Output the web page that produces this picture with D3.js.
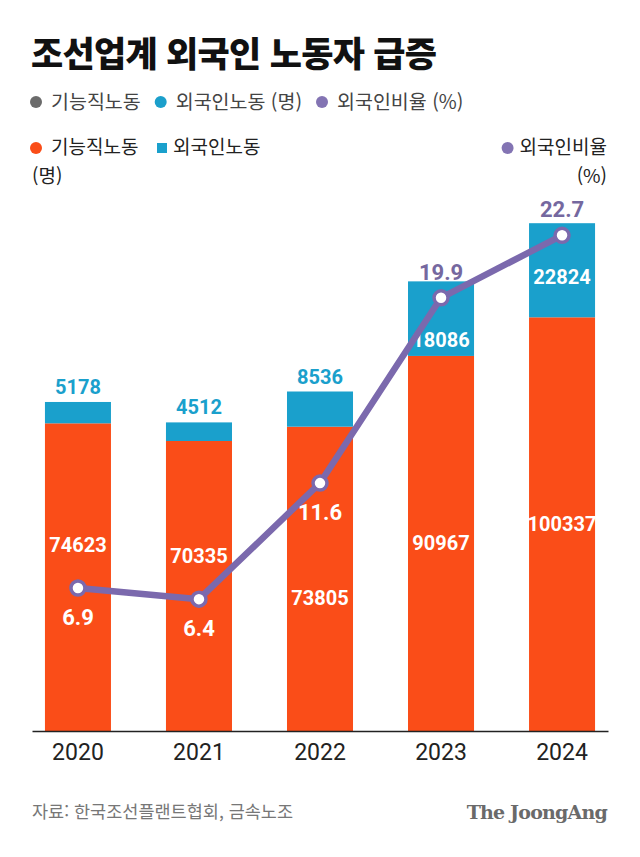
<!DOCTYPE html>
<html lang="ko">
<head>
<meta charset="utf-8">
<script src="https://cdn.jsdelivr.net/npm/d3@7"></script>
<style>
  html, body { margin: 0; padding: 0; background: #fff; }
  svg { display: block; font-family: "Noto Sans CJK KR", "Noto Sans", sans-serif; }
  .num { font-family: Roboto, "Noto Sans", sans-serif; font-weight: 700; }
</style>
</head>
<body>
<svg id="chart" width="640" height="857"></svg>
<script>
// data
const years = ['2020', '2021', '2022', '2023', '2024'];
const skilled = [74623, 70335, 73805, 90967, 100337];   // 기능직노동 (명)
const foreign = [5178, 4512, 8536, 18086, 22824];       // 외국인노동 (명)
const ratio = [6.9, 6.4, 11.6, 19.9, 22.7];             // 외국인비율 (%)

const legendTop = ['기능직노동', '외국인노동 (명)', '외국인비율 (%)'];
const legendTopColors = ['#6b6b6b', '#1b9fcb', '#8374b3'];

const ORANGE = '#fa4d18';
const BLUE = '#1aa0cc';
const PURPLE = '#7b69ad';
const PURPLE_TEXT = '#75689f';

const svg = d3.select('#chart');

// title
svg.append('text')
  .attr('x', 31).attr('y', 67)
  .attr('font-size', 35).attr('font-weight', 900)
  .attr('letter-spacing', -0.7)
  .attr('fill', '#111')
  .text('조선업계 외국인 노동자 급증');

// first legend row (grey style)
let lx = 36;
legendTop.forEach(function(t, i) {
  svg.append('circle').attr('cx', lx).attr('cy', 102).attr('r', 6).attr('fill', legendTopColors[i]);
  let tx = svg.append('text').attr('x', lx + 15).attr('y', 109)
    .attr('font-size', 19.5).attr('fill', '#444').text(t);
  lx = lx + 15 + tx.node().getComputedTextLength() + 20;
});

// second legend row
svg.append('circle').attr('cx', 36).attr('cy', 148).attr('r', 6).attr('fill', ORANGE);
svg.append('text').attr('x', 51).attr('y', 154).attr('font-size', 19).attr('fill', '#222').text('기능직노동');
svg.append('rect').attr('x', 157).attr('y', 143).attr('width', 10).attr('height', 10).attr('fill', BLUE);
svg.append('text').attr('x', 173).attr('y', 154).attr('font-size', 19).attr('fill', '#222').text('외국인노동');
svg.append('text').attr('x', 32).attr('y', 183).attr('font-size', 19).attr('fill', '#222').text('(명)');

let rt = svg.append('text').attr('x', 607).attr('y', 154).attr('text-anchor', 'end')
  .attr('font-size', 19).attr('fill', '#222').text('외국인비율');
svg.append('circle').attr('cx', 607 - rt.node().getComputedTextLength() - 12).attr('cy', 148).attr('r', 6).attr('fill', '#8374b3');
svg.append('text').attr('x', 607).attr('y', 183).attr('text-anchor', 'end')
  .attr('font-size', 19).attr('fill', '#222').text('(%)');

// scales
const x = d3.scaleBand().domain(years).range([32, 608]).paddingInner(0.4545).paddingOuter(0.107);
const y = d3.scaleLinear().domain([0, 130000]).range([731, 195]);
const yp = d3.scaleLinear().domain([0, 25]).range([742, 184]);

const rows = years.map(function(yr, i) {
  return {year: yr, skilled: skilled[i], foreign: foreign[i], ratio: ratio[i]};
});
const series = d3.stack().keys(['skilled', 'foreign'])(rows);
const colors = {skilled: ORANGE, foreign: BLUE};

svg.append('g').selectAll('g').data(series).enter().append('g')
  .attr('fill', function(s) { return colors[s.key]; })
  .selectAll('rect').data(function(s) { return s; }).enter().append('rect')
  .attr('x', function(d) { return x(d.data.year); })
  .attr('width', x.bandwidth())
  .attr('y', function(d) { return y(d[1]); })
  .attr('height', function(d) { return y(d[0]) - y(d[1]); });

// x axis
const ax = svg.append('g').attr('transform', 'translate(0,731)')
  .call(d3.axisBottom(x).tickSize(0).tickPadding(13));
ax.select('.domain').attr('stroke', '#222').attr('stroke-width', 1.6);
ax.selectAll('text').attr('font-family', 'Roboto, sans-serif').attr('font-size', 23).attr('fill', '#222');

// line
const cx = function(d) { return x(d.year) + x.bandwidth() / 2; };
const line = d3.line().x(cx).y(function(d) { return yp(d.ratio); });

// bar value labels
rows.forEach(function(d) {
  const c = cx(d);
  const dotY = yp(d.ratio);
  const oTop = y(d.skilled), base = y(0), bTop = y(d.skilled + d.foreign);
  // orange segment label
  let oy = (oTop + base) / 2;
  if (Math.abs(oy - dotY) < 35) oy = dotY - 43;
  else if (dotY > oTop && oy > dotY) oy = dotY + 115;
  svg.append('text').attr('class', 'num').attr('x', c).attr('y', oy).attr('dy', '0.35em')
    .attr('text-anchor', 'middle').attr('font-size', 20).attr('fill', '#fff')
    .text(d.skilled);
  // blue segment label
  if (oTop - bTop > 40) {
    let by = Math.max((bTop + oTop) / 2, dotY + 42);
    svg.append('text').attr('class', 'num').attr('x', c).attr('y', by).attr('dy', '0.35em')
      .attr('text-anchor', 'middle').attr('font-size', 20).attr('fill', '#fff')
      .text(d.foreign);
  } else {
    svg.append('text').attr('class', 'num').attr('x', c).attr('y', bTop - 8)
      .attr('text-anchor', 'middle').attr('font-size', 20).attr('fill', BLUE)
      .text(d.foreign);
  }
});

svg.append('path').datum(rows)
  .attr('d', line)
  .attr('fill', 'none').attr('stroke', PURPLE).attr('stroke-width', 6.5)
  .attr('stroke-linejoin', 'round');

svg.append('g').selectAll('circle').data(rows).enter().append('circle')
  .attr('cx', cx).attr('cy', function(d) { return yp(d.ratio); })
  .attr('r', 7).attr('fill', '#fff').attr('stroke', PURPLE).attr('stroke-width', 3.5);

svg.append('g').selectAll('text').data(rows).enter().append('text')
  .attr('class', 'num')
  .attr('x', cx)
  .attr('y', function(d) {
    const inside = yp(d.ratio) > y(d.skilled);
    return yp(d.ratio) + (inside ? 29 : -26);
  })
  .attr('dy', '0.35em')
  .attr('text-anchor', 'middle').attr('font-size', 22)
  .attr('fill', function(d) { return yp(d.ratio) > y(d.skilled) ? '#fff' : PURPLE_TEXT; })
  .text(function(d) { return d.ratio; });

// footer
svg.append('text').attr('x', 32).attr('y', 818).attr('font-size', 17.5).attr('fill', '#777')
  .text('자료: 한국조선플랜트협회, 금속노조');
svg.append('text').attr('x', 607).attr('y', 819).attr('text-anchor', 'end')
  .attr('font-family', '"DejaVu Serif", "Liberation Serif", serif').attr('font-weight', 700)
  .attr('font-size', 19).attr('letter-spacing', -0.8).attr('fill', '#6a6a6a')
  .text('The JoongAng');
</script>
</body>
</html>
